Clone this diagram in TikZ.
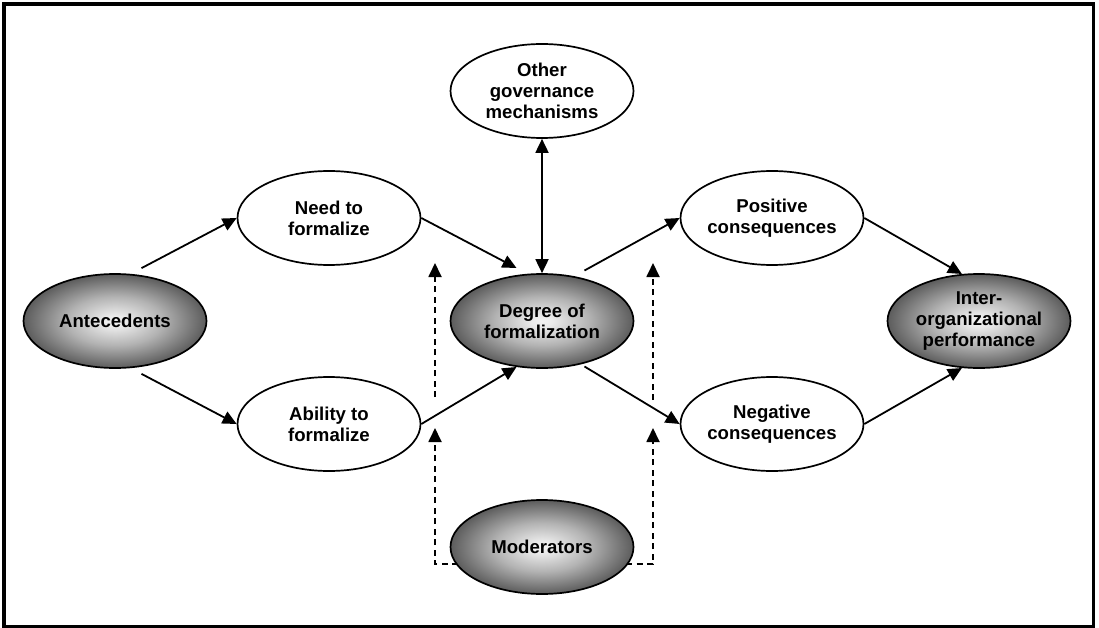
\documentclass[tikz,border=0pt]{standalone}
\usepackage{fontspec}
\setmainfont{Liberation Sans}
\usetikzlibrary{arrows.meta,backgrounds,calc,shapes.geometric}
\pgfdeclareradialshading{ovalshade}{\pgfpoint{0bp}{0bp}}{color(0bp)=(black!5); color(3bp)=(black!8); color(13bp)=(black!30); color(25bp)=(black!64); color(50bp)=(black!64)}
\begin{document}
\begin{tikzpicture}[x=1pt,y=-1pt,
  oval/.style={ellipse, draw=black, line width=1.7pt, minimum width=183pt, minimum height=94pt, inner sep=0pt, align=center, font=\fontsize{18.6}{21}\selectfont\bfseries},
  whiteoval/.style={oval, fill=white},
  greyoval/.style={oval, shading=ovalshade},
  conn/.style={line width=1.8pt, -{Triangle[length=14pt,width=13pt]}},
  dconn/.style={conn, dash pattern=on 6pt off 4.5pt}
]
\useasboundingbox (0,0) rectangle (1099,628);
\draw[line width=3.5pt] (4,4) rectangle (1093.5,627);

\node[greyoval]  (ante)  at (115,321) {Antecedents};
\node[whiteoval] (need)  at (329,218) {Need to\\formalize};
\node[whiteoval] (abil)  at (329,424) {Ability to\\formalize};
\node[greyoval]  (deg)   at (542,321) {Degree of\\formalization};
\node[whiteoval] (other) at (542,91)  {Other\\governance\\mechanisms};
\node[whiteoval] (pos)   at (772,218) {Positive\\consequences};
\node[whiteoval] (neg)   at (772,424) {Negative\\consequences};
\node[greyoval]  (inter) at (979,321) {Inter-\\organizational\\performance};
\node[greyoval]  (mod)   at (542,547) {Moderators};

\coordinate (d1s) at (435,397);
\coordinate (d1e) at (435,263);
\coordinate (d2s) at (653,400);
\coordinate (d2e) at (653,263);
\coordinate (dl)  at (435,428);
\coordinate (dr)  at (653,428);

\begin{scope}[on background layer]
\draw[conn] ([yshift=7pt]ante.60) -- (need.west);
\draw[conn] ([yshift=-7pt]ante.-60) -- (abil.west);
\draw[conn] (need.east) -- ([yshift=7pt]deg.119);
\draw[conn] (abil.east) -- (deg.-119);
\draw[conn] ([yshift=8pt]deg.45) -- (pos.west);
\draw[conn] ([yshift=-3pt]deg.-45) -- (neg.west);
\draw[conn] (pos.east) -- (inter.110);
\draw[conn] (neg.east) -- (inter.-110);
\draw[line width=1.8pt, {Triangle[length=14pt,width=13pt]}-{Triangle[length=14pt,width=13pt]}] (deg.north) -- (other.south);
\draw[dconn] (d1s) -- (d1e);
\draw[dconn] (d2s) -- (d2e);
\draw[dconn] ([yshift=-17pt]mod.center) -| (dl);
\draw[dconn] ([yshift=-17pt]mod.center) -| (dr);
\end{scope}
\end{tikzpicture}
\end{document}
